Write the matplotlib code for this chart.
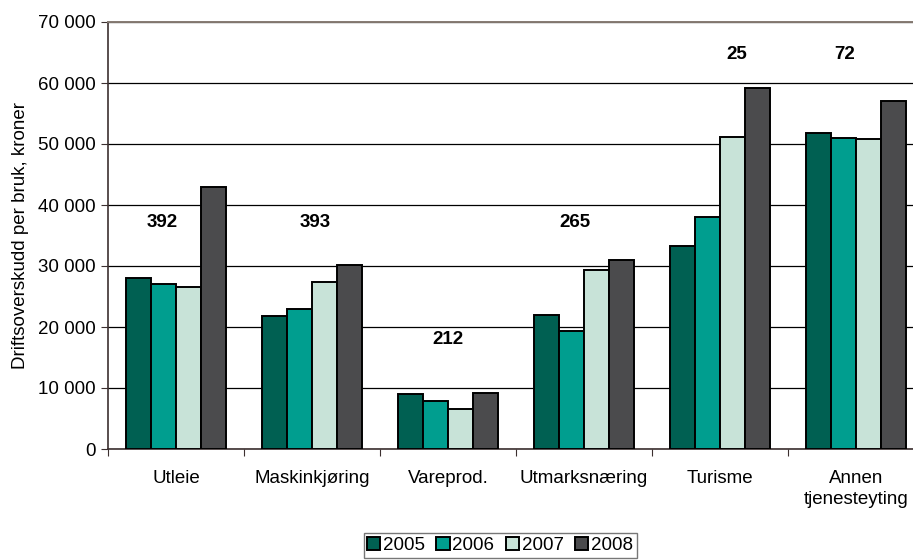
import numpy as np
import matplotlib.pyplot as plt
from matplotlib.ticker import FuncFormatter

plt.rcParams['font.family'] = ['Liberation Sans', 'DejaVu Sans']

categories = ["Utleie", "Maskinkjøring", "Vareprod.", "Utmarksnæring", "Turisme", "Annen\ntjenesteyting"]
years = ["2005", "2006", "2007", "2008"]
v2005 = [28000, 21800, 9000, 22000, 33200, 51800]
v2006 = [27000, 23000, 7900, 19300, 38100, 51000]
v2007 = [26500, 27400, 6600, 29400, 51100, 50900]
v2008 = [43000, 30200, 9100, 31000, 59100, 57000]
counts = ["392", "393", "212", "265", "25", "72"]
count_y = [37200, 37200, 18000, 37200, 64600, 64600]
count_dx = [-0.1, 0.02, 0.0, -0.07, 0.12, -0.08]

colors = ["#006052", "#009E8F", "#C8E3D8", "#4B4B4D"]
fs = 13.5

fig = plt.figure(figsize=(9.13, 5.6), dpi=100)
ax = fig.add_axes([108 / 913, 111 / 560, 816 / 913, 427 / 560])

x = np.arange(len(categories))
w = 0.184
series = [v2005, v2006, v2007, v2008]
for i, (vals, yr) in enumerate(zip(series, years)):
    ax.bar(x + (i - 1.5) * w, vals, w, color=colors[i], edgecolor="black",
           linewidth=1.4, label=yr, zorder=3)

for i, (t, yv, dx) in enumerate(zip(counts, count_y, count_dx)):
    ax.text(i + dx, yv, t, ha="center", va="center", fontsize=fs,
            fontweight="bold", zorder=4)

ax.set_xlim(-0.5, len(categories) - 0.5)
ax.set_ylim(0, 70000)
ax.set_yticks(np.arange(0, 70001, 10000))
ax.yaxis.set_major_formatter(FuncFormatter(lambda v, p: f"{int(v):,}".replace(",", " ")))
ax.grid(axis="y", color="black", linewidth=0.9, zorder=0)

ax.set_xticks(np.arange(len(categories) + 1) - 0.5)
ax.set_xticklabels([])
ax.set_xticks(x, minor=True)
ax.set_xticklabels(categories, minor=True, fontsize=fs, linespacing=1.3)
ax.tick_params(axis="x", which="minor", length=0, pad=15)
ax.tick_params(axis="x", which="major", length=5, direction="out", color="#3c3030")
ax.tick_params(axis="y", length=5, direction="out", labelsize=fs, pad=4, color="#3c3030")

for s in ["left", "bottom"]:
    ax.spines[s].set_color("#3c3030")
    ax.spines[s].set_linewidth(1.2)
ax.spines["top"].set_color("#857a72")
ax.spines["top"].set_linewidth(1.4)
ax.spines["right"].set_visible(False)

ax.set_ylabel("Driftsoverskudd per bruk, kroner", fontsize=fs, labelpad=6)

leg = fig.legend(loc="upper center", bbox_to_anchor=(500 / 913, 27 / 560), ncol=4,
                 fontsize=fs, frameon=True, fancybox=False, edgecolor="#555555",
                 handlelength=0.7, handleheight=0.7, handletextpad=0.15,
                 columnspacing=0.6, borderpad=0.2, borderaxespad=0)
leg.get_frame().set_linewidth(1.0)

fig.savefig("out.png", dpi=100)
